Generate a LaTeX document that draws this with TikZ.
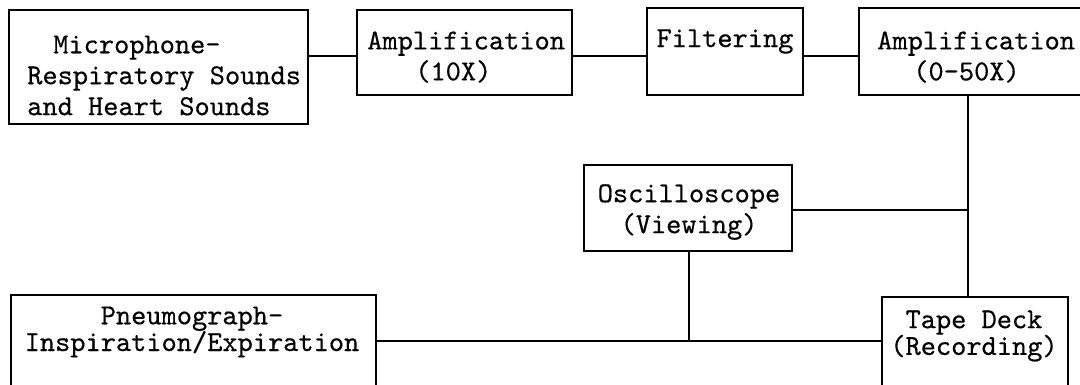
\documentclass[tikz,border=0pt]{standalone}
\usepackage{fontspec}
\newfontfamily\typewr[FakeBold=0.4]{lmmono10-regular.otf}
\usetikzlibrary{fit}
\begin{document}
\begin{tikzpicture}[x=0.025cm, y=-0.025cm,
  box/.style={draw, line width=1.4pt, inner sep=0pt},
  txt/.style={inner sep=0pt, font=\typewr\fontsize{20.6}{22}\selectfont},
  wire/.style={line width=1.4pt}]
\useasboundingbox (0,0) rectangle (1080,384);
\clip (0,0) rectangle (1080,384);
\fill[white] (0,0) rectangle (1080,384);
% boxes
\node[box, fit={(9,10) (308,124)}] (mic) {};
\node[box, fit={(357,10) (572,95)}] (amp1) {};
\node[box, fit={(647,8) (803,95)}] (filt) {};
\node[box, fit={(859,8) (1100,95)}] (amp2) {};
\node[box, fit={(584,165) (792,251)}] (osc) {};
\node[box, fit={(11,295) (376,410)}] (pneu) {};
\node[box, fit={(882,297) (1068,410)}] (tape) {};
% texts
\node[txt, anchor=west, align=left] (micT) at (27,75.5) {\hspace*{0.65cm}Microphone-\\Respiratory Sounds\\and Heart Sounds};
\node[txt, anchor=west, align=left] (amp1T) at (367,57) {Amplification\\\hspace*{1.2cm}(10X)};
\node[txt] (filtT) at (725,41.5) {Filtering};
\node[txt, anchor=west, align=left] (amp2T) at (877,57) {Amplification\\\hspace*{0.9cm}(0-50X)};
\node[txt, align=center] (oscT) at (689,212) {Oscilloscope\\(Viewing)};
\node[txt, align=center] (pneuT) at (192,332) {Pneumograph-\\[-3pt]Inspiration/Expiration};
\node[txt, align=center] (tapeT) at (974,336) {Tape Deck\\[-3pt](Recording)};
% connectors
\coordinate (ytop) at (0,56);
\draw[wire] (mic.east |- ytop) -- (amp1.west |- ytop);
\draw[wire] (amp1.east |- ytop) -- (filt.west |- ytop);
\draw[wire] (filt.east |- ytop) -- (amp2.west |- ytop);
\coordinate (xv) at (968,0);
\draw[wire] (amp2.south -| xv) -- (tape.north -| xv);
\coordinate (j1) at (968,210);
\draw[wire] (osc.east |- j1) -- (j1);
\coordinate (ybot) at (0,341);
\coordinate (j2) at (689,341);
\draw[wire] (pneu.east |- ybot) -- (tape.west |- ybot);
\draw[wire] (osc.south -| j2) -- (j2);
\end{tikzpicture}
\end{document}
